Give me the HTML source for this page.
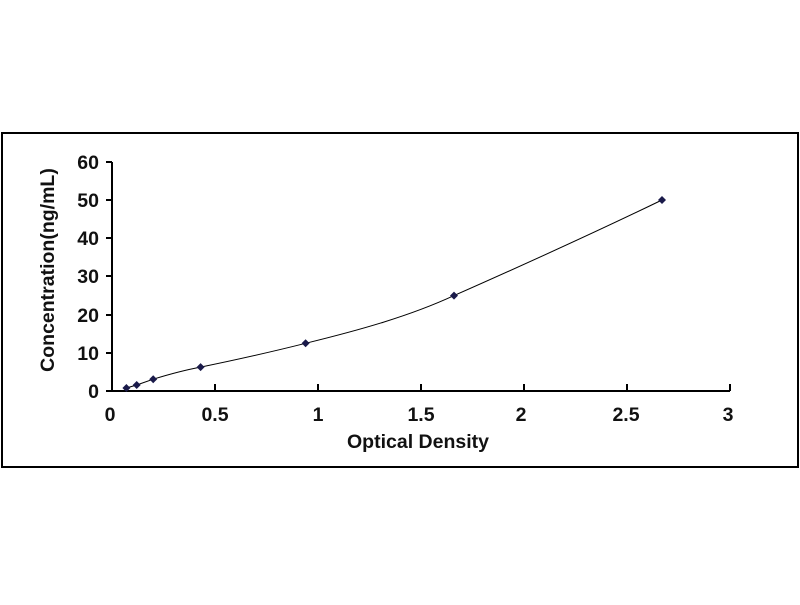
<!DOCTYPE html>
<html><head><style>body{margin:0;background:#fff}</style></head><body>
<svg width="800" height="600" xmlns="http://www.w3.org/2000/svg" font-family="Liberation Sans, Arial, sans-serif" font-weight="bold">
<rect x="2" y="133" width="796" height="334" fill="#fff" stroke="#000" stroke-width="2"/>
<g stroke="#000" stroke-width="2" fill="none">
<line x1="112" y1="162" x2="112" y2="392"/>
<line x1="111" y1="391" x2="730" y2="391"/>
<line x1="106" y1="162" x2="112" y2="162"/>
<line x1="106" y1="200" x2="112" y2="200"/>
<line x1="106" y1="238" x2="112" y2="238"/>
<line x1="106" y1="276" x2="112" y2="276"/>
<line x1="106" y1="315" x2="112" y2="315"/>
<line x1="106" y1="353" x2="112" y2="353"/>
<line x1="106" y1="391" x2="112" y2="391"/>
<line x1="215" y1="384" x2="215" y2="391"/>
<line x1="318" y1="384" x2="318" y2="391"/>
<line x1="421" y1="384" x2="421" y2="391"/>
<line x1="524" y1="384" x2="524" y2="391"/>
<line x1="627" y1="384" x2="627" y2="391"/>
<line x1="730" y1="384" x2="730" y2="391"/>
</g>
<g font-size="19.5" text-anchor="end" fill="#111">
<text x="99" y="169">60</text><text x="99" y="207">50</text><text x="99" y="245">40</text>
<text x="99" y="283">30</text><text x="99" y="322">20</text><text x="99" y="360">10</text><text x="99" y="398">0</text>
</g>
<g font-size="19.5" text-anchor="middle" fill="#111">
<text x="110" y="421">0</text><text x="215" y="421">0.5</text><text x="318" y="421">1</text>
<text x="421" y="421">1.5</text><text x="521" y="421">2</text><text x="626" y="421">2.5</text><text x="728" y="421">3</text>
<text x="418" y="448">Optical Density</text>
<text transform="translate(54,270) rotate(-90)">Concentration(ng/mL)</text>
</g>
<path d="M126.4,388 L136.7,385 L153.2,379.2 C170,374 185,370 200.6,367.1 C240,359 275,351 305.6,343.3 C360,330 410,316 454,295.6 C530,262 600,230 662,200" fill="none" stroke="#000" stroke-width="1"/>
<g fill="#1a1a4a">
<path d="M126.4,384l4,4-4,4-4-4z"/>
<path d="M136.7,381l4,4-4,4-4-4z"/>
<path d="M153.2,375.2l4,4-4,4-4-4z"/>
<path d="M200.6,363.1l4,4-4,4-4-4z"/>
<path d="M305.6,339.3l4,4-4,4-4-4z"/>
<path d="M454,291.6l4,4-4,4-4-4z"/>
<path d="M662,196l4,4-4,4-4-4z"/>
</g>
</svg>
</body></html>
